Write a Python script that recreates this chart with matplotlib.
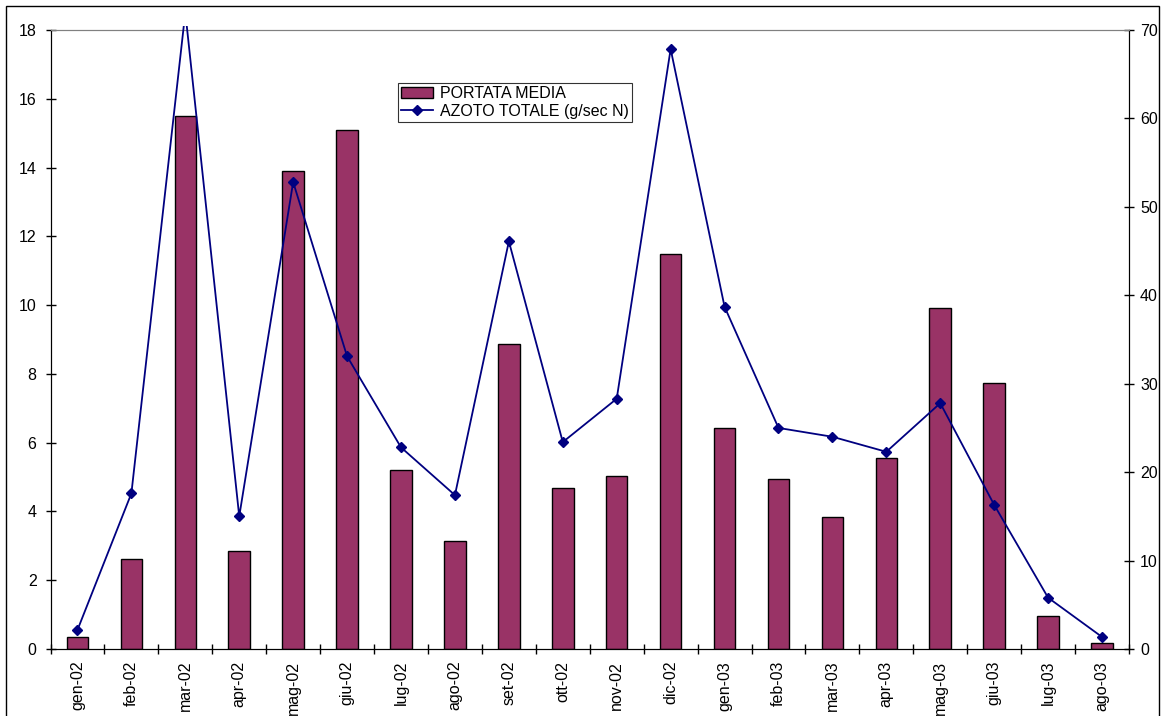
import matplotlib
matplotlib.use("Agg")
import matplotlib.pyplot as plt
import numpy as np
from matplotlib.transforms import Bbox
from matplotlib.patches import Rectangle

plt.rcParams['font.family'] = ['Liberation Sans', 'DejaVu Sans']

months = ["gen-02", "feb-02", "mar-02", "apr-02", "mag-02", "giu-02", "lug-02", "ago-02",
          "set-02", "ott-02", "nov-02", "dic-02", "gen-03", "feb-03", "mar-03", "apr-03",
          "mag-03", "giu-03", "lug-03", "ago-03"]
portata_media = [0.35, 2.62, 15.5, 2.85, 13.9, 15.1, 5.2, 3.14, 8.87, 4.68, 5.03, 11.49,
                 6.43, 4.94, 3.84, 5.55, 9.92, 7.73, 0.96, 0.17]
azoto_totale = [2.15, 17.6, 72.0, 15.0, 52.8, 33.1, 22.8, 17.4, 46.1, 23.4, 28.3, 67.85,
                38.7, 25.0, 24.0, 22.3, 27.8, 16.3, 5.8, 1.36]
left_ticks = [0, 2, 4, 6, 8, 10, 12, 14, 16, 18]
right_ticks = [0, 10, 20, 30, 40, 50, 60, 70]

FS = 11.5
W, H = 1161, 716
fig = plt.figure(figsize=(W / 100, H / 100), dpi=100)
ax = fig.add_axes([50.5 / W, (H - 649) / H, 1078.5 / W, 619 / H])
ax2 = ax.twinx()

x = np.arange(len(months))
bars = ax.bar(x, portata_media, width=0.4, color="#993366", edgecolor="black",
              linewidth=1.0, label="PORTATA MEDIA", zorder=2)
ax.set_xlim(-0.5, len(months) - 0.5)
ax.set_ylim(0, 18)
ax.set_yticks(left_ticks)
ax.set_xticks(np.arange(len(months) + 1) - 0.5)
ax.set_xticklabels([])
ax.set_xticks(x, minor=True)
ax.set_xticklabels(months, minor=True, rotation=90, fontsize=FS)
ax.tick_params(axis='x', which='minor', length=0, pad=8.5)
ax.tick_params(axis='x', which='major', direction='inout', length=7, width=1)
ax.tick_params(axis='y', direction='inout', length=7, width=1, labelsize=FS, pad=6.5)

line, = ax2.plot(x, azoto_totale, color="#000080", linewidth=1.3, marker="D",
                 markersize=5.5, label="AZOTO TOTALE (g/sec N)", zorder=3)
ax2.set_ylim(0, 70)
ax2.set_yticks(right_ticks)
ax2.tick_params(axis='y', direction='inout', length=7, width=1, labelsize=FS, pad=4.5)

for a in (ax, ax2):
    a.spines['top'].set_color('#808080')
    a.spines['left'].set_color('black')
    a.spines['right'].set_color('black')
    a.spines['bottom'].set_color('black')

# clip the line slightly above the plot area, as in the original
fig.canvas.draw()
bb = ax2.bbox
line.set_clip_box(Bbox.from_extents(bb.x0 - 5, bb.y0 - 5, bb.x1 + 5, bb.y1 + 4))

leg = fig.legend(handles=[bars, line], labels=["PORTATA MEDIA", "AZOTO TOTALE (g/sec N)"],
                 loc='upper left', bbox_to_anchor=(398 / W, 1 - 83 / H),
                 frameon=True, fancybox=False, edgecolor='black', fontsize=FS,
                 borderpad=0.2, labelspacing=0.15, handlelength=2.0, handletextpad=0.45,
                 borderaxespad=0)
leg.get_frame().set_linewidth(0.8)

fig.patches.append(Rectangle((5.5 / W, -0.05), (1159 - 5.5) / W, 1.05 - 5.5 / H,
                             transform=fig.transFigure, fill=False, edgecolor='black',
                             linewidth=1.0))

fig.savefig("out.png", dpi=100)
